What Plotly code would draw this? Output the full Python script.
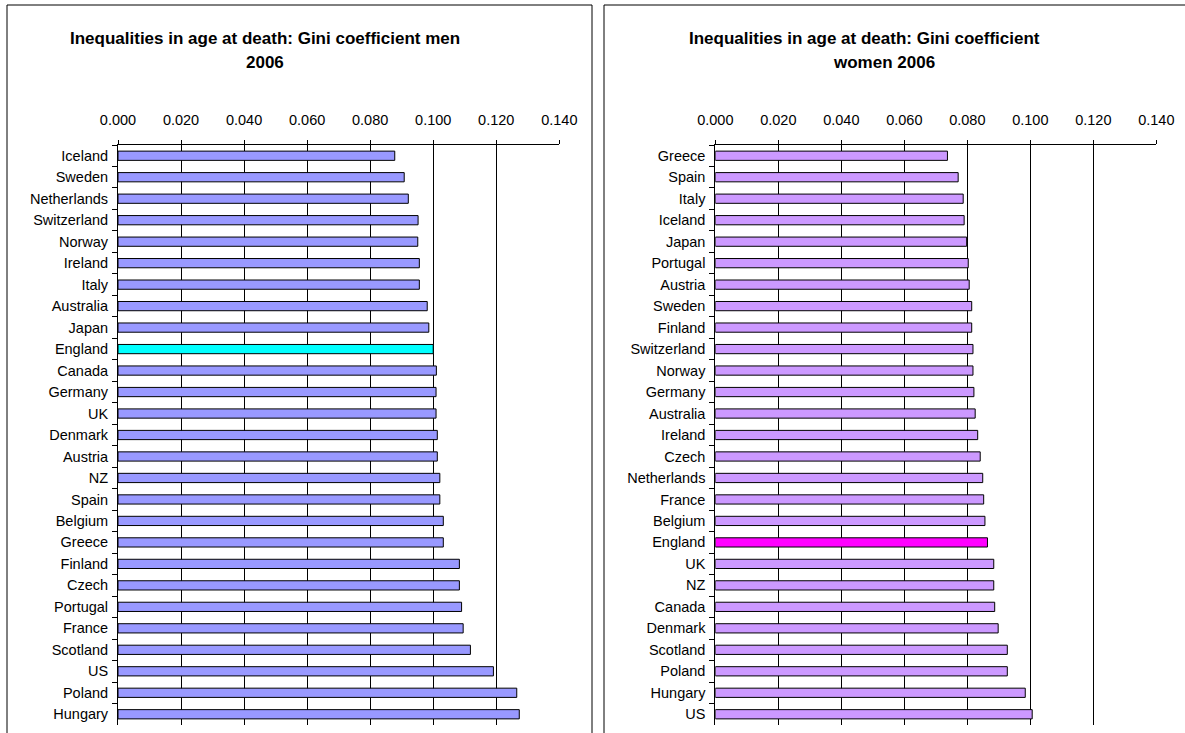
import plotly.graph_objects as go

# Gini coefficient of age at death, 2006
men_countries = ["Iceland", "Sweden", "Netherlands", "Switzerland", "Norway", "Ireland",
                 "Italy", "Australia", "Japan", "England", "Canada", "Germany", "UK",
                 "Denmark", "Austria", "NZ", "Spain", "Belgium", "Greece", "Finland",
                 "Czech", "Portugal", "France", "Scotland", "US", "Poland", "Hungary"]
men_gini = [0.0878, 0.0908, 0.0921, 0.0952, 0.0951, 0.0956, 0.0956, 0.0981, 0.0986,
            0.1000, 0.1010, 0.1009, 0.1009, 0.1013, 0.1013, 0.1021, 0.1021, 0.1032,
            0.1032, 0.1083, 0.1083, 0.1090, 0.1095, 0.1118, 0.1191, 0.1265, 0.1273]

women_countries = ["Greece", "Spain", "Italy", "Iceland", "Japan", "Portugal", "Austria",
                   "Sweden", "Finland", "Switzerland", "Norway", "Germany", "Australia",
                   "Ireland", "Czech", "Netherlands", "France", "Belgium", "England", "UK",
                   "NZ", "Canada", "Denmark", "Scotland", "Poland", "Hungary", "US"]
women_gini = [0.0737, 0.0771, 0.0787, 0.0790, 0.0798, 0.0803, 0.0806, 0.0814, 0.0814,
              0.0818, 0.0818, 0.0821, 0.0825, 0.0833, 0.0841, 0.0849, 0.0852, 0.0856,
              0.0864, 0.0884, 0.0884, 0.0887, 0.0898, 0.0927, 0.0927, 0.0984, 0.1006]

x_ticks = [0.0, 0.02, 0.04, 0.06, 0.08, 0.10, 0.12, 0.14]

W, H = 1185, 733
FONT = "Liberation Sans, Arial, sans-serif"


def px(x):
    return x / W


def py(y):
    return 1 - y / H


def colours(countries, base, highlight):
    return [highlight if c == "England" else base for c in countries]


fig = go.Figure()
fig.add_trace(go.Bar(
    x=men_gini, y=men_countries, orientation="h",
    marker=dict(color=colours(men_countries, "#9999FF", "#00FFFF"),
                line=dict(color="#000000", width=1)),
    xaxis="x", yaxis="y", showlegend=False,
))
fig.add_trace(go.Bar(
    x=women_gini, y=women_countries, orientation="h",
    marker=dict(color=colours(women_countries, "#CC99FF", "#FF00FF"),
                line=dict(color="#000000", width=1)),
    xaxis="x2", yaxis="y2", showlegend=False,
))

xcommon = dict(
    range=[0, 0.14], tickvals=x_ticks, tickformat=".3f", side="top",
    showgrid=True, gridcolor="#000000", gridwidth=1,
    showline=True, linecolor="#000000", linewidth=1,
    ticks="outside", ticklen=4, tickcolor="#000000", ticklabelstandoff=9,
    tickfont=dict(family=FONT, size=14.5, color="#000000"),
    zeroline=False, fixedrange=True, automargin=False,
)
ycommon = dict(
    autorange="reversed", type="category",
    showline=True, linecolor="#000000", linewidth=1,
    ticks="outside", ticklen=5, tickcolor="#000000", tickson="boundaries",
    ticklabelstandoff=6,
    tickfont=dict(family=FONT, size=14.5, color="#000000"),
    showgrid=False, fixedrange=True, automargin=False,
)

plot_top, plot_bottom = 145, 725
fig.update_layout(
    width=W, height=H,
    margin=dict(l=0, r=0, t=0, b=0, autoexpand=False),
    paper_bgcolor="#FFFFFF", plot_bgcolor="#FFFFFF",
    bargap=0.57,
    xaxis=dict(domain=[px(118), px(559.3)], anchor="y", **xcommon),
    yaxis=dict(domain=[py(plot_bottom), py(plot_top)], anchor="x",
               categoryarray=men_countries, **ycommon),
    xaxis2=dict(domain=[px(715.3), px(1156.3)], anchor="y2", **xcommon),
    yaxis2=dict(domain=[py(plot_bottom), py(plot_top)], anchor="x2",
                categoryarray=women_countries, **ycommon),
)

# chart frames
fig.add_shape(type="rect", xref="paper", yref="paper",
              x0=px(7), x1=px(592), y0=py(745), y1=py(5),
              line=dict(color="#000000", width=1), layer="above")
fig.add_shape(type="rect", xref="paper", yref="paper",
              x0=px(604), x1=px(1200), y0=py(745), y1=py(5),
              line=dict(color="#000000", width=1), layer="above")

# titles
title_font = dict(family=FONT, size=17, color="#000000")
titles = [
    ("<b>Inequalities in age at death: Gini coefficient men</b>", 265, 39),
    ("<b>2006</b>", 265, 63),
    ("<b>Inequalities in age at death: Gini coefficient</b>", 864, 39),
    ("<b>women 2006</b>", 884, 63),
]
for text, x, y in titles:
    fig.add_annotation(text=text, xref="paper", yref="paper", x=px(x), y=py(y),
                       xanchor="center", yanchor="middle", showarrow=False,
                       font=title_font)

fig.write_html("out.html")
